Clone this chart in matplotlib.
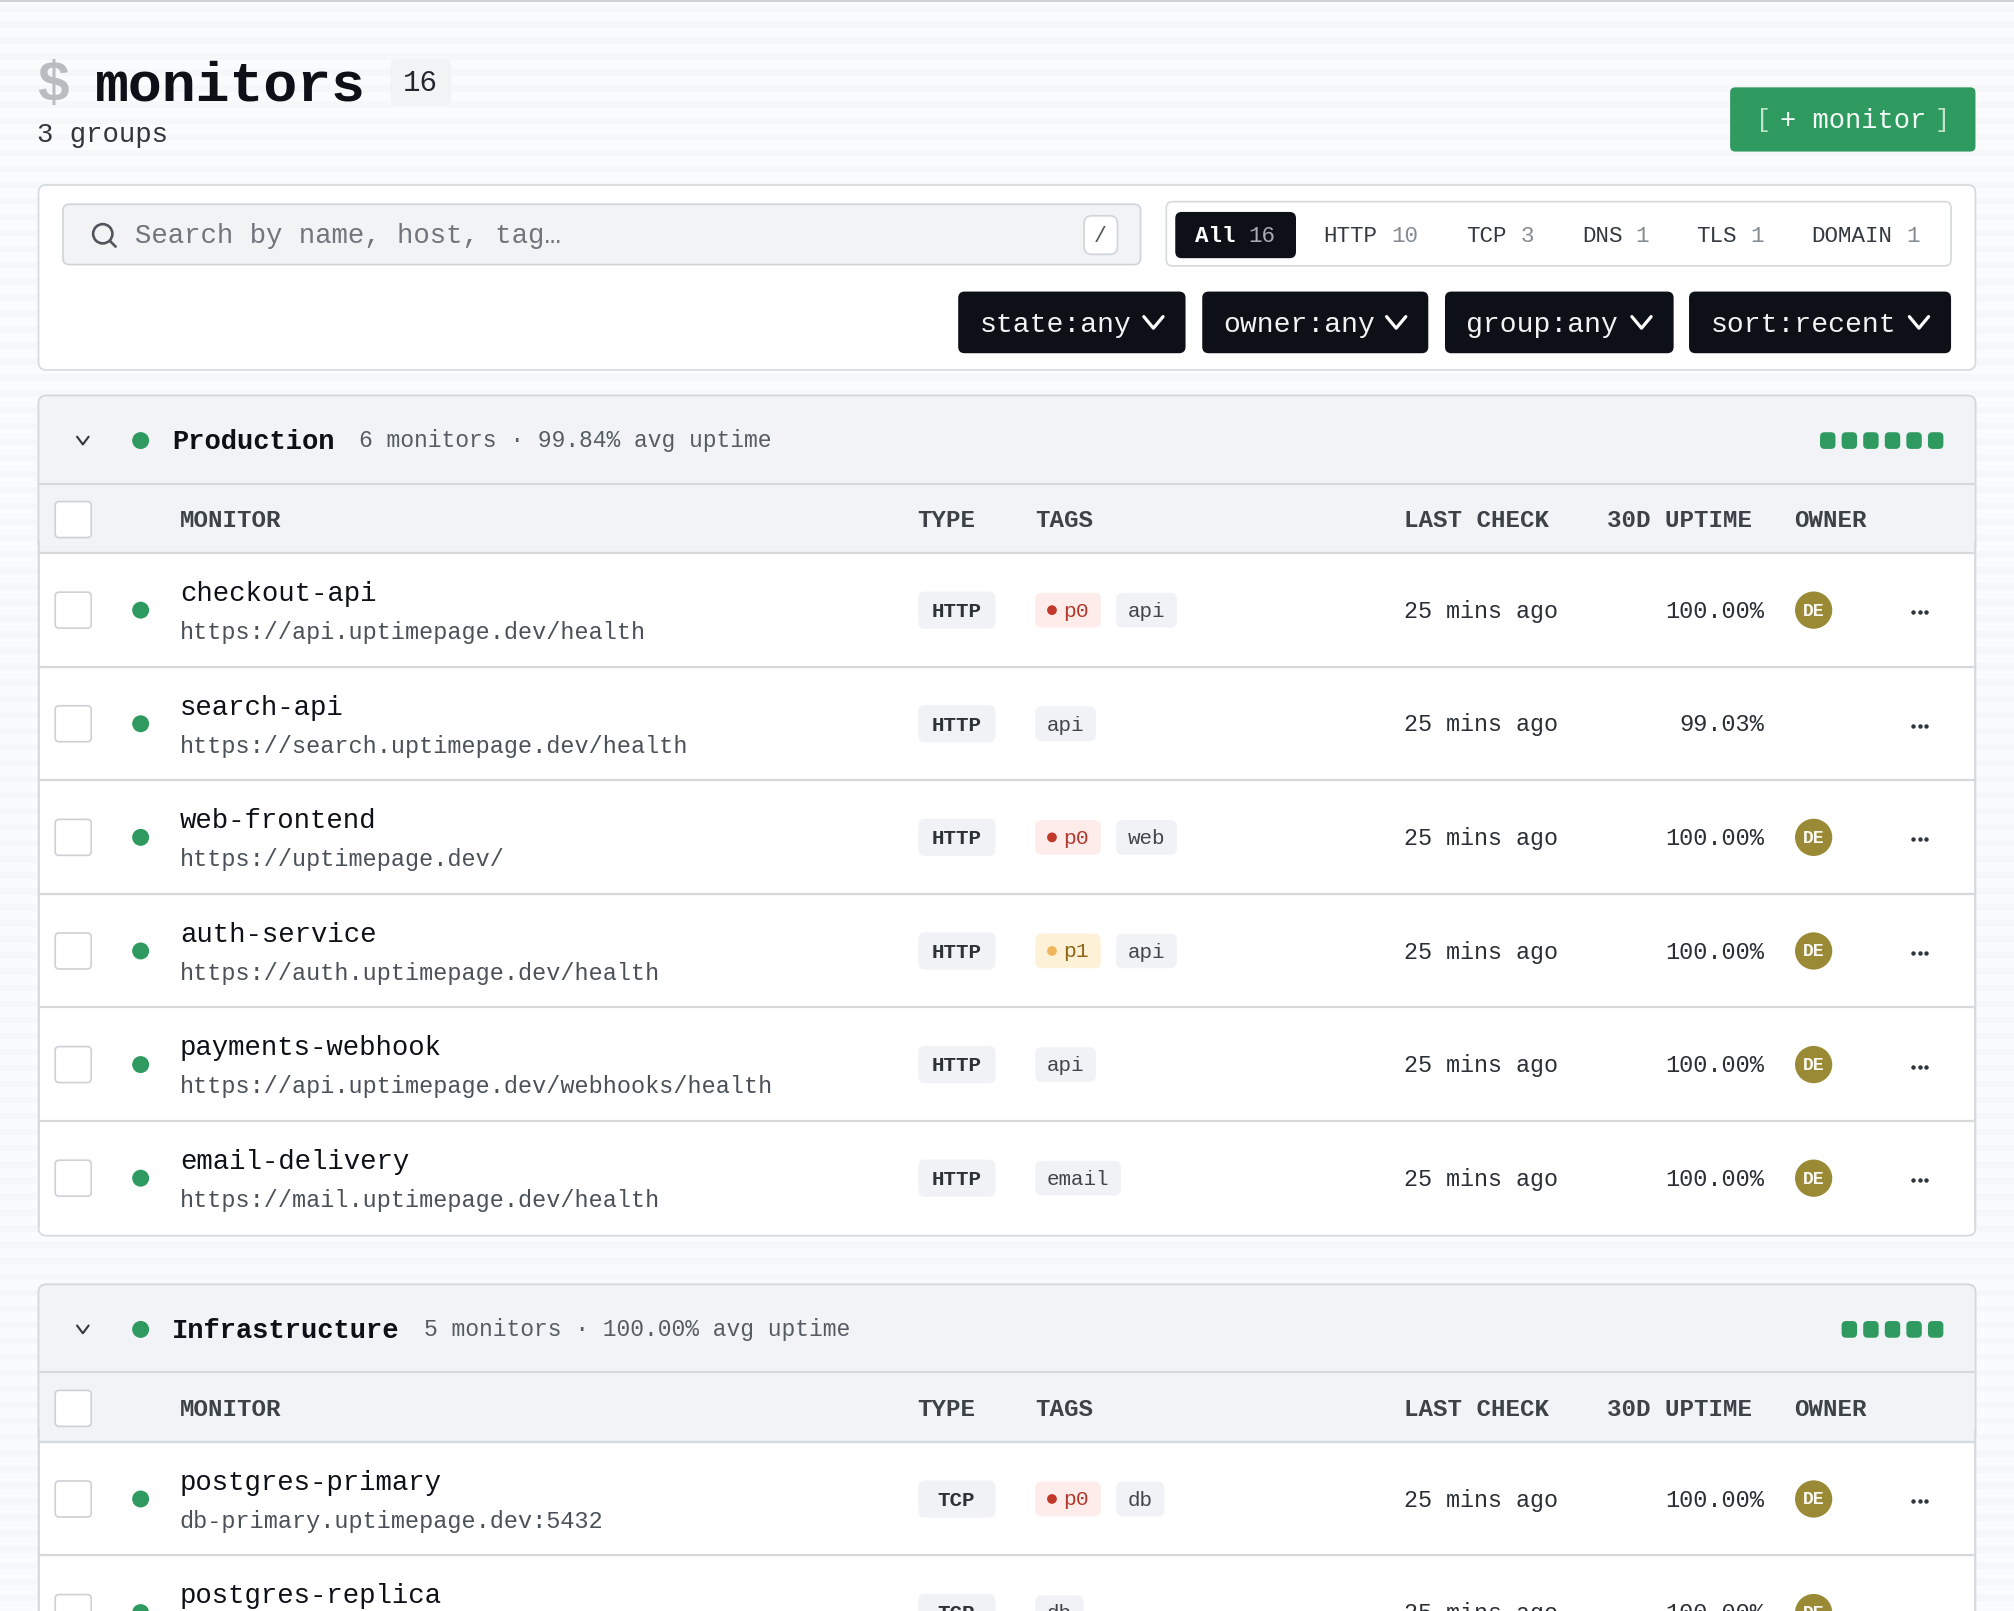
import numpy as np
import matplotlib
matplotlib.use('Agg')
import matplotlib.pyplot as plt
from matplotlib.patches import FancyBboxPatch, Circle

# ── Data ────────────────────────────────────────────────────────────────────
TITLE = 'monitors'
TOTAL = 16
SUBTITLE = '3 groups'
SEARCH_HINT = 'Search by name, host, tag…'

tab_labels = ['All', 'HTTP', 'TCP', 'DNS', 'TLS', 'DOMAIN']
tab_counts = [16, 10, 3, 1, 1, 1]
dropdowns = ['state:any', 'owner:any', 'group:any', 'sort:recent']
columns = ['MONITOR', 'TYPE', 'TAGS', 'LAST CHECK', '30D UPTIME', 'OWNER']

prod_title = 'Production'
prod_summary = '6 monitors · 99.84% avg uptime'
prod_names = ['checkout-api', 'search-api', 'web-frontend', 'auth-service',
              'payments-webhook', 'email-delivery']
prod_urls = ['https://api.uptimepage.dev/health',
             'https://search.uptimepage.dev/health',
             'https://uptimepage.dev/',
             'https://auth.uptimepage.dev/health',
             'https://api.uptimepage.dev/webhooks/health',
             'https://mail.uptimepage.dev/health']
prod_types = ['HTTP', 'HTTP', 'HTTP', 'HTTP', 'HTTP', 'HTTP']
prod_priority = ['p0', None, 'p0', 'p1', None, None]
prod_tags = ['api', 'api', 'web', 'api', 'api', 'email']
prod_uptime = [100.00, 99.03, 100.00, 100.00, 100.00, 100.00]
prod_owner = ['DE', None, 'DE', 'DE', 'DE', 'DE']

infra_title = 'Infrastructure'
infra_summary = '5 monitors · 100.00% avg uptime'
infra_names = ['postgres-primary', 'postgres-replica']
infra_urls = ['db-primary.uptimepage.dev:5432', '']
infra_types = ['TCP', 'TCP']
infra_priority = ['p0', None]
infra_tags = ['db', 'db']
infra_uptime = [100.00, 100.00]
infra_owner = ['DE', 'DE']

LAST_CHECK = '25 mins ago'

# ── Colours ─────────────────────────────────────────────────────────────────
INK = '#0d1117'
GREEN = '#2e9a5f'
LINE = '#d5d9dc'
HEAD = '#f1f3f6'
CHIP = '#f1f2f5'
GREY = '#565c63'
PRIORITY = {'p0': ('#fdecea', '#c0392b', '#b03a2e'),
            'p1': ('#fdf1d8', '#efb65c', '#8f6414')}

MONO = ['Liberation Mono', 'DejaVu Sans Mono']
SCALE = 2014 / 1568  # picture px per axes unit

fig = plt.figure(figsize=(20.14, 16.11), dpi=100, facecolor='#fafbfc')
ax = fig.add_axes([0, 0, 1, 1])
ax.set_xlim(0, 1568)
ax.set_ylim(1611 / SCALE, 0)
ax.axis('off')


def box(x0, y0, x1, y1, fill, edge='none', r=4, lw=1.2, z=2):
    p = FancyBboxPatch((x0, y0), x1 - x0, y1 - y0,
                       boxstyle=f'round,pad=0,rounding_size={r}',
                       fc=fill, ec=edge, lw=lw, zorder=z)
    ax.add_patch(p)


def label(x, yc, s, char_px, color=INK, bold=False, ha='left', z=5):
    # char_px = advance of one character in picture pixels
    font_px = char_px / 0.6
    ax.text(x, yc + 0.3 * font_px / SCALE, s, family=MONO, fontsize=font_px * 0.72,
            color=color, weight='bold' if bold else 'normal',
            ha=ha, va='baseline', zorder=z)


def chevron(x, y, w, h, color, lw):
    ax.plot([x - w, x, x + w], [y - h, y + h, y - h], color=color, lw=lw,
            solid_capstyle='round', solid_joinstyle='round', zorder=5)


def dot(x, y, r, color):
    ax.add_patch(Circle((x, y), r, fc=color, ec='none', zorder=5))


# ── Page background ─────────────────────────────────────────────────────────
for y in np.arange(4, 1260, 12.5):
    ax.axhspan(y, y + 5, color='#f6f7f9', lw=0, zorder=0)
ax.axhspan(0, 1.5, color='#cfd2d6', lw=0, zorder=1)

# ── Page title ──────────────────────────────────────────────────────────────
label(28, 65, '$', 33.9, color='#b9bcc0', bold=True)
label(73, 65, TITLE, 33.9, bold=True)
box(304, 46, 351, 82, '#f2f3f5', r=5)
label(327.5, 64, str(TOTAL), 17.5, ha='center', color='#22272d')
label(29, 104, SUBTITLE, 16.4, color='#30363c')

box(1347, 68, 1538, 118, GREEN, r=4)
label(1373, 93, '[', 15, color='#bfe3cd', ha='center')
label(1386, 93, '+ monitor', 16.3, color='#f4fbf6')
label(1512, 93, ']', 15, color='#bfe3cd', ha='center')

# ── Filter bar ──────────────────────────────────────────────────────────────
box(30, 144, 1538, 288, 'white', LINE, r=6)
box(49, 159, 888, 206, '#f1f3f5', '#d0d4d8', r=5)
ax.add_patch(Circle((80, 182), 7.5, fc='none', ec='#50565c', lw=1.9, zorder=5))
ax.plot([85.5, 90], [187.5, 192], color='#50565c', lw=1.9,
        solid_capstyle='round', zorder=5)
label(105, 183, SEARCH_HINT, 16.45, color='#70767c')
box(844, 168, 870, 198, 'white', '#d0d4d8', r=6)
label(857, 183, '/', 13, color='#50565c', ha='center')

box(908, 157, 1519, 207, 'white', LINE, r=5)
box(915, 165, 1009, 201, INK, r=5)
tab_x = [930, 1030.5, 1141.5, 1231.5, 1320.5, 1410.5]
for i, (name, n) in enumerate(zip(tab_labels, tab_counts)):
    main = 'white' if i == 0 else '#33393f'
    faded = '#a9adb2' if i == 0 else '#858b91'
    label(tab_x[i], 183, name, 13.5, color=main, bold=i == 0)
    label(tab_x[i] + (len(name) + 1) * 13.5 / SCALE, 183, str(n), 13.5, color=faded)

drop_x = [(746, 923), (936, 1112), (1125, 1303), (1315, 1519)]
for (x0, x1), name in zip(drop_x, dropdowns):
    box(x0, 227, x1, 275, INK, r=5)
    label(x0 + 16.5, 252, name, 16.9, color='#f2f3f4')
    chevron(x1 - 25, 251, 7.5, 4.5, 'white', 2.3)


# ── Monitor groups ──────────────────────────────────────────────────────────
def draw_group(top, title, summary, names, urls, types, priority, tags, uptime,
               owner, n_bars, bottom):
    head_line = top + 68.5
    col_line = top + 122.5
    box(30, top, 1538, bottom, 'white', LINE, r=6, z=2)
    box(30, top, 1538, col_line, HEAD, LINE, r=6, z=2)
    # square off the lower part of the grey head
    ax.fill_between([30.6, 1537.4], col_line - 8, col_line, color=HEAD, lw=0, zorder=2.5)
    ax.hlines([head_line, col_line], 30, 1538, color=LINE, lw=1.6, zorder=3)
    ax.vlines([30, 1538], col_line - 10, bottom - 6, color=LINE, lw=1.2, zorder=3)

    yc = top + 35
    chevron(64.5, yc, 4.5, 3, '#30363c', 1.5)
    dot(109.5, yc, 6.6, GREEN)
    label(134, yc, title, 16.25, bold=True)
    label(134 + (len(title) * 16.25 + 24) / SCALE, yc, summary, 13.83, color=GREY)
    bar_centers = 1507 - np.arange(n_bars) * 16.8
    for cx in bar_centers:
        box(cx - 6, yc - 6.5, cx + 6, yc + 6.5, GREEN, r=3.5)

    yh = top + 96.5
    box(43, yh - 14, 71, yh + 14, 'white', '#cdd1d5', r=3, z=4)
    col_x = [140, 714, 806, 1093, 1251, 1397]
    for x, name in zip(col_x, columns):
        label(x, yh, name, 14.5, color='#3c4248', bold=True)

    row_h = 88.45
    for i, name in enumerate(names):
        yc = col_line + row_h * (i + 0.5) + 0.3
        if i > 0:
            ax.hlines(col_line + row_h * i, 30, 1538, color=LINE, lw=1.6, zorder=3)
        box(43, yc - 14, 71, yc + 14, 'white', '#cdd1d5', r=3, z=4)
        dot(109.5, yc, 6.6, GREEN)
        label(140, yc - 13.5, name, 16.45)
        label(140, yc + 17, urls[i], 14.12, color='#4a5158')

        box(715, yc - 14.5, 775, yc + 14.5, CHIP, r=5, z=4)
        label(744.5, yc + 0.5, types[i], 12.5, color='#2c3237', bold=True, ha='center')

        x = 806
        if priority[i]:
            fill, mark, text = PRIORITY[priority[i]]
            box(x, yc - 13.5, x + 51, yc + 13.5, fill, r=5, z=4)
            dot(x + 13, yc, 3.8, mark)
            label(x + 22, yc, priority[i], 12.8, color=text)
            x += 63
        w = 18 + len(tags[i]) * 12.5 / SCALE
        box(x, yc - 13.5, x + w, yc + 13.5, CHIP, r=5, z=4)
        label(x + 9, yc + 0.5, tags[i], 12.5, color='#40464c')

        label(1093, yc + 0.5, LAST_CHECK, 14.05, color='#2a2f35')
        label(1373.5, yc + 0.5, f'{uptime[i]:.2f}%', 14.15, color='#2a2f35', ha='right')
        if owner[i]:
            dot(1412, yc, 14.5, '#9a8a35')
            label(1412, yc, owner[i], 10.8, color='#fbfaf2', bold=True, ha='center', z=6)
        ax.plot([1489.5, 1494.5, 1499.5], [yc + 1.5] * 3, ls='none', marker='o', ms=3.2,
                mew=0, color='#30363c', zorder=5)


draw_group(308, prod_title, prod_summary, prod_names, prod_urls, prod_types,
           prod_priority, prod_tags, prod_uptime, prod_owner, 6, 962)
draw_group(1000, infra_title, infra_summary, infra_names, infra_urls, infra_types,
           infra_priority, infra_tags, infra_uptime, infra_owner, 5, 1400)

plt.savefig('out.png', dpi=100)
print('Chart saved: out.png')
